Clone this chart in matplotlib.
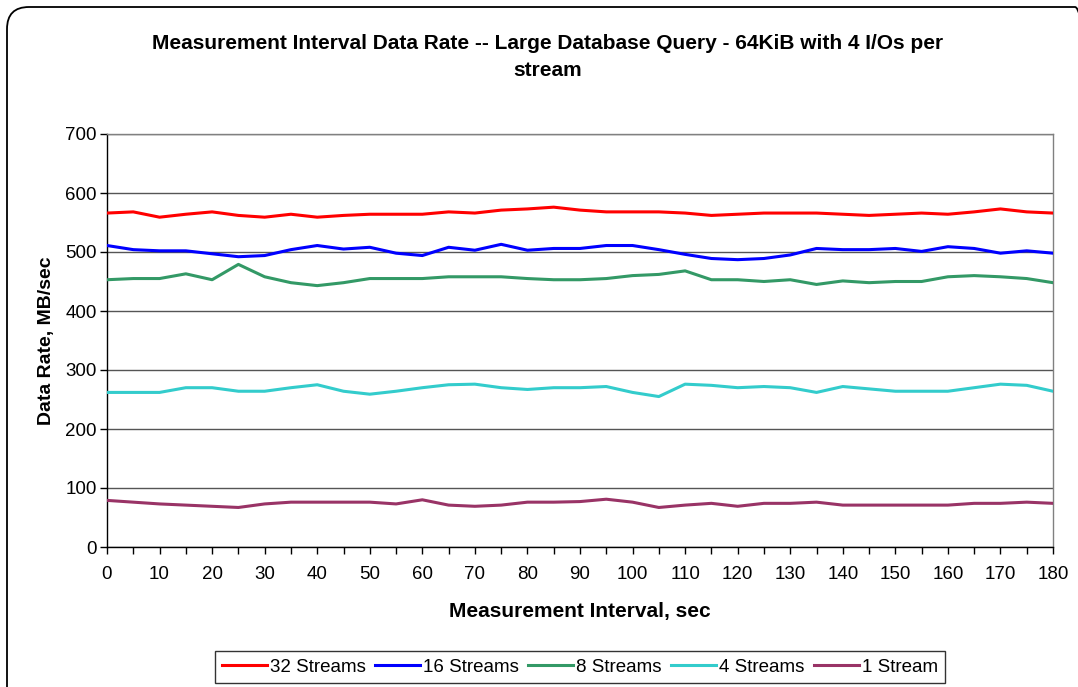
import numpy as np
import matplotlib
matplotlib.use('Agg')
import matplotlib.pyplot as plt
from matplotlib.patches import FancyBboxPatch
from matplotlib.ticker import MultipleLocator

plt.rcParams['font.family'] = ['Liberation Sans', 'DejaVu Sans']

# Measurement interval (seconds) and per-stream data rates (MB/sec)
interval = list(range(0, 181, 5))

streams_32 = [566, 568, 559, 564, 568, 562, 559, 564, 559, 562, 564, 564, 564,
              568, 566, 571, 573, 576, 571, 568, 568, 568, 566, 562, 564,
              566, 566, 566, 564, 562, 564, 566, 564, 568, 573, 568, 566]
streams_16 = [511, 504, 502, 502, 497, 492, 494, 504, 511, 505, 508, 498, 494,
              508, 503, 513, 503, 506, 506, 511, 511, 504, 496, 489, 487,
              489, 495, 506, 504, 504, 506, 501, 509, 506, 498, 502, 498]
streams_8 = [453, 455, 455, 463, 453, 479, 458, 448, 443, 448, 455, 455, 455,
             458, 458, 458, 455, 453, 453, 455, 460, 462, 468, 453, 453,
             450, 453, 445, 451, 448, 450, 450, 458, 460, 458, 455, 448]
streams_4 = [262, 262, 262, 270, 270, 264, 264, 270, 275, 264, 259, 264, 270,
             275, 276, 270, 267, 270, 270, 272, 262, 255, 276, 274, 270,
             272, 270, 262, 272, 268, 264, 264, 264, 270, 276, 274, 264]
stream_1 = [79, 76, 73, 71, 69, 67, 73, 76, 76, 76, 76, 73, 80,
            71, 69, 71, 76, 76, 77, 81, 76, 67, 71, 74, 69,
            74, 74, 76, 71, 71, 71, 71, 71, 74, 74, 76, 74]

labels = ['32 Streams', '16 Streams', '8 Streams', '4 Streams', '1 Stream']
colors = ['#FF0000', '#0000FF', '#339966', '#33CCCC', '#993366']
series = [streams_32, streams_16, streams_8, streams_4, stream_1]

fig = plt.figure(figsize=(10.78, 6.87), dpi=100)
ax = fig.add_axes([107 / 1078, 1 - 547 / 687, (1053 - 107) / 1078, (547 - 134) / 687])

for vals, lab, col in zip(series, labels, colors):
    ax.plot(interval, vals, color=col, linewidth=2.2, label=lab, zorder=3)

ax.set_xlim(0, 180)
ax.set_ylim(0, 700)
ax.xaxis.set_major_locator(MultipleLocator(10))
ax.xaxis.set_minor_locator(MultipleLocator(5))
ax.yaxis.set_major_locator(MultipleLocator(100))
ax.grid(axis='y', color='#555555', linewidth=1.0, zorder=1)

for side in ('top', 'right'):
    ax.spines[side].set_color('#808080')
    ax.spines[side].set_linewidth(1.0)
for side in ('left', 'bottom'):
    ax.spines[side].set_color('black')
    ax.spines[side].set_linewidth(1.0)

ax.tick_params(axis='both', which='both', direction='out', length=5, width=1,
               color='black', labelsize=13.5, pad=2.5)
ax.tick_params(axis='x', which='major', pad=9)

ax.set_xlabel('Measurement Interval, sec', fontsize=15, fontweight='bold', labelpad=13)
ax.set_ylabel('Data Rate, MB/sec', fontsize=14, fontweight='bold', labelpad=7)

fig.text(548 / 1078, 1 - 57 / 687,
         'Measurement Interval Data Rate -- Large Database Query - 64KiB with 4 I/Os per\nstream',
         ha='center', va='center', fontsize=15, fontweight='bold', linespacing=1.5)

leg = fig.legend(loc='center', bbox_to_anchor=(580 / 1078, 1 - 667 / 687), ncol=5,
                 fontsize=13.5, frameon=True, fancybox=False, edgecolor='black',
                 handlelength=2.4, handletextpad=0.15, columnspacing=0.5,
                 borderpad=0.4, borderaxespad=0)
leg.get_frame().set_linewidth(1.0)

# rounded chart frame
frame = FancyBboxPatch((0.07, -0.3), 10.9, 7.10, boxstyle='round,pad=0,rounding_size=0.22',
                       transform=fig.dpi_scale_trans, facecolor='none', edgecolor='black',
                       linewidth=1.3, zorder=0)
fig.patches.append(frame)

fig.savefig('out.png', dpi=100)
